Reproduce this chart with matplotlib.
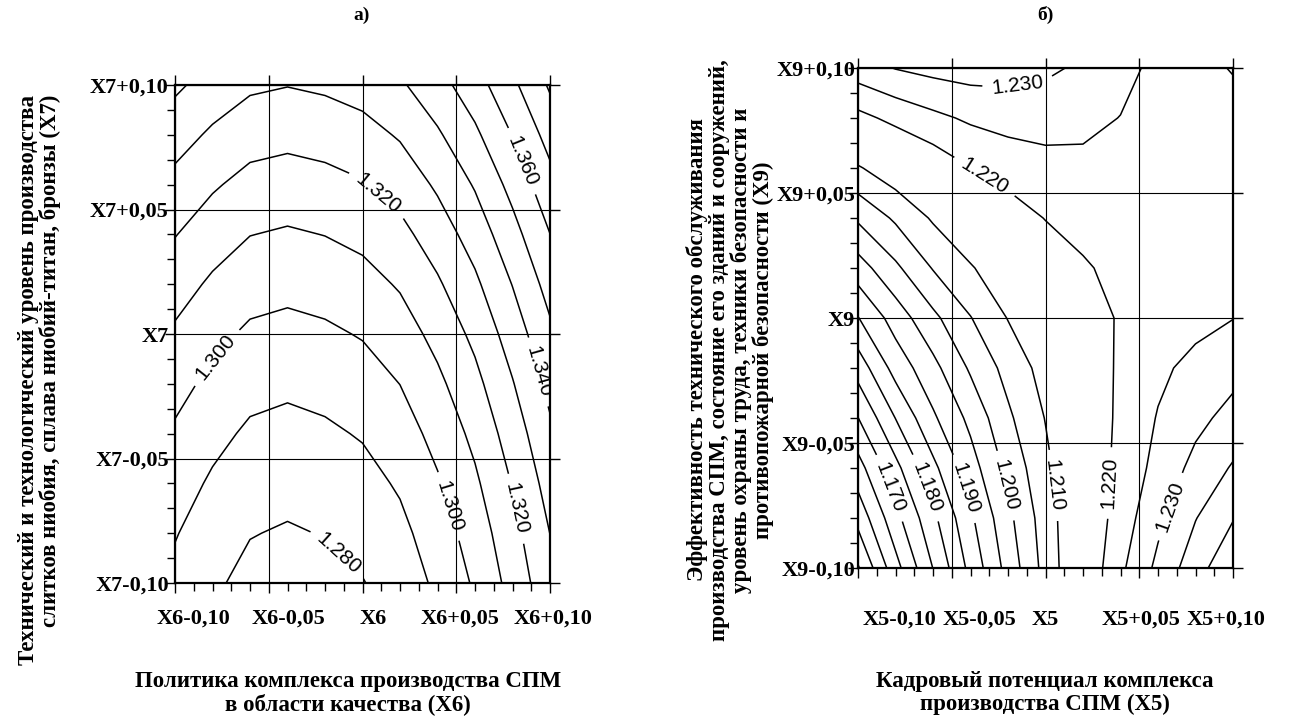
import matplotlib
matplotlib.use("Agg")
import matplotlib.pyplot as plt
from matplotlib.ticker import FixedLocator, MultipleLocator
from matplotlib.transforms import ScaledTranslation

# coded factor levels of the response surface grid
x_grid = [-0.10, -0.08, -0.06, -0.04, -0.02, 0.00, 0.02, 0.04, 0.06, 0.08, 0.10]
y_grid = [-0.10, -0.08, -0.06, -0.04, -0.02, 0.00, 0.02, 0.04, 0.06, 0.08, 0.10]

# а) response vs X6 (columns) and X7 (rows, bottom -> top)
z_left = [
    [1.2874, 1.2816, 1.2772, 1.2759, 1.2772, 1.2796, 1.2842, 1.2919, 1.3013, 1.3135, 1.3269],
    [1.2906, 1.2848, 1.2804, 1.2791, 1.2804, 1.2828, 1.2874, 1.2951, 1.3045, 1.3167, 1.3301],
    [1.2944, 1.2886, 1.2842, 1.2829, 1.2842, 1.2866, 1.2912, 1.2989, 1.3083, 1.3205, 1.3339],
    [1.2986, 1.2928, 1.2884, 1.2871, 1.2884, 1.2908, 1.2954, 1.3031, 1.3125, 1.3247, 1.3381],
    [1.3033, 1.2975, 1.2931, 1.2918, 1.2931, 1.2955, 1.3001, 1.3078, 1.3172, 1.3294, 1.3428],
    [1.3085, 1.3027, 1.2983, 1.2970, 1.2983, 1.3007, 1.3053, 1.3130, 1.3224, 1.3346, 1.3480],
    [1.3142, 1.3084, 1.3040, 1.3027, 1.3040, 1.3064, 1.3110, 1.3187, 1.3281, 1.3403, 1.3537],
    [1.3204, 1.3146, 1.3102, 1.3089, 1.3102, 1.3126, 1.3172, 1.3249, 1.3343, 1.3465, 1.3599],
    [1.3270, 1.3212, 1.3168, 1.3155, 1.3168, 1.3192, 1.3238, 1.3315, 1.3409, 1.3531, 1.3665],
    [1.3342, 1.3284, 1.3240, 1.3227, 1.3240, 1.3264, 1.3310, 1.3387, 1.3481, 1.3603, 1.3737],
    [1.3418, 1.3360, 1.3316, 1.3303, 1.3316, 1.3340, 1.3386, 1.3463, 1.3557, 1.3679, 1.3813],
]

# б) response vs X5 (columns) and X9 (rows, bottom -> top)
z_right = [
    [1.1495, 1.1632, 1.1751, 1.1865, 1.1968, 1.2068, 1.2156, 1.2240, 1.2312, 1.2379, 1.2441],
    [1.1566, 1.1684, 1.1788, 1.1891, 1.1987, 1.2075, 1.2153, 1.2224, 1.2288, 1.2348, 1.2397],
    [1.1630, 1.1735, 1.1837, 1.1928, 1.2014, 1.2088, 1.2156, 1.2216, 1.2265, 1.2315, 1.2355],
    [1.1699, 1.1801, 1.1892, 1.1963, 1.2041, 1.2102, 1.2158, 1.2211, 1.2253, 1.2286, 1.2317],
    [1.1771, 1.1869, 1.1935, 1.2007, 1.2067, 1.2119, 1.2165, 1.2208, 1.2240, 1.2264, 1.2283],
    [1.1848, 1.1922, 1.1988, 1.2048, 1.2102, 1.2139, 1.2176, 1.2205, 1.2220, 1.2235, 1.2249],
    [1.1927, 1.1990, 1.2053, 1.2096, 1.2130, 1.2163, 1.2195, 1.2212, 1.2222, 1.2230, 1.2235],
    [1.2008, 1.2058, 1.2106, 1.2139, 1.2171, 1.2202, 1.2215, 1.2222, 1.2226, 1.2227, 1.2228],
    [1.2095, 1.2132, 1.2166, 1.2199, 1.2224, 1.2235, 1.2239, 1.2236, 1.2228, 1.2227, 1.2229],
    [1.2185, 1.2214, 1.2238, 1.2258, 1.2266, 1.2268, 1.2262, 1.2249, 1.2240, 1.2237, 1.2238],
    [1.2278, 1.2302, 1.2315, 1.2322, 1.2322, 1.2310, 1.2291, 1.2265, 1.2238, 1.2240, 1.2252],
]

levels_left = [1.28, 1.29, 1.30, 1.31, 1.32, 1.33, 1.34, 1.35, 1.36, 1.37, 1.38]
levels_right = [1.150, 1.155, 1.160, 1.165, 1.170, 1.175, 1.180, 1.185, 1.190,
                1.195, 1.200, 1.205, 1.210, 1.220, 1.225, 1.230, 1.235, 1.240]

tick_values = [-0.10, -0.05, 0.0, 0.05, 0.10]
x6_labels = ["X6-0,10", "X6-0,05", "X6", "X6+0,05", "X6+0,10"]
x7_labels = ["X7-0,10", "X7-0,05", "X7", "X7+0,05", "X7+0,10"]
x5_labels = ["X5-0,10", "X5-0,05", "X5", "X5+0,05", "X5+0,10"]
x9_labels = ["X9-0,10", "X9-0,05", "X9", "X9+0,05", "X9+0,10"]

# sideways shift (points) of the bottom tick labels, as placed in the original
shift_left = [13, 14, 8, 3, 2]
shift_right = [30, 20, 0, 1, -5]

# where the contour values are written
label_spots_left = [(0.087, 0.070), (0.009, 0.057), (-0.080, -0.008), (0.095, -0.015),
                    (0.047, -0.069), (0.083, -0.070), (-0.010, -0.086)]
label_spots_right = [(-0.015, 0.094), (-0.033, 0.056), (-0.083, -0.068), (-0.064, -0.068),
                     (-0.042, -0.068), (-0.021, -0.067), (0.004, -0.067), (0.034, -0.066),
                     (0.065, -0.075)]

SERIF = "Liberation Serif"
SANS = "Liberation Sans"


def style_axes(ax, xlabels, ylabels, shifts, xpad, ypad):
    ax.set_xlim(-0.1, 0.1)
    ax.set_ylim(-0.1, 0.1)
    ax.xaxis.set_major_locator(FixedLocator(tick_values))
    ax.yaxis.set_major_locator(FixedLocator(tick_values))
    ax.xaxis.set_minor_locator(MultipleLocator(0.01))
    ax.yaxis.set_minor_locator(MultipleLocator(0.01))
    ax.set_xticklabels(xlabels, family=SERIF, fontweight="bold", fontsize=16)
    ax.set_yticklabels(ylabels, family=SERIF, fontweight="bold", fontsize=16)
    ax.tick_params(which="major", direction="out", length=7.5, width=1.0,
                   top=True, right=True, labeltop=False, labelright=False)
    ax.tick_params(axis="x", which="major", pad=xpad)
    ax.tick_params(axis="y", which="major", pad=ypad)
    ax.tick_params(which="minor", direction="out", length=5.5, width=1.0,
                   top=False, right=False)
    ax.grid(which="major", color="black", linewidth=0.8)
    for sp in ax.spines.values():
        sp.set_linewidth(1.6)
    for lab, dx in zip(ax.get_xticklabels(), shifts):
        lab.set_transform(lab.get_transform() +
                          ScaledTranslation(dx / 72, 0, ax.figure.dpi_scale_trans))


def draw_panel(ax, z, levels, spots):
    cs = ax.contour(x_grid, y_grid, z, levels=levels, colors="black", linewidths=1.1)
    texts = ax.clabel(cs, fmt="%.3f", fontsize=15, inline=True, inline_spacing=6,
                      manual=spots)
    for t in texts:
        t.set_fontfamily(SANS)


fig = plt.figure(figsize=(12.91, 7.19), dpi=100)

ax1 = fig.add_axes([175 / 1291, 1 - 583 / 719, 375 / 1291, 498 / 719])
draw_panel(ax1, z_left, levels_left, label_spots_left)
style_axes(ax1, x6_labels, x7_labels, shift_left, 11, -3)

ax2 = fig.add_axes([858 / 1291, 1 - 568 / 719, 375 / 1291, 500 / 719])
draw_panel(ax2, z_right, levels_right, label_spots_right)
style_axes(ax2, x5_labels, x9_labels, shift_right, 22.5, -5.5)

fig.text(362 / 1291, 1 - 15 / 719, "а)", family=SERIF, fontweight="bold", fontsize=14,
         ha="center", va="center")
fig.text(1045 / 1291, 1 - 15 / 719, "б)", family=SERIF, fontweight="bold", fontsize=14,
         ha="center", va="center")

fig.text(348 / 1291, 1 - 693 / 719, "Политика комплекса производства СПМ\nв области качества (X6)",
         family=SERIF, fontweight="bold", fontsize=16.5, ha="center", va="center",
         multialignment="center", linespacing=1.1)
fig.text(1045 / 1291, 1 - 693 / 719, "Кадровый потенциал комплекса\nпроизводства СПМ (X5)",
         family=SERIF, fontweight="bold", fontsize=16.5, ha="center", va="center",
         multialignment="center", linespacing=1.1)

fig.text(40 / 1291, 1 - 95 / 719,
         "Технический и технологический уровень производства\n"
         "слитков ниобия, сплава ниобий-титан, бронзы (X7)",
         family=SERIF, fontweight="bold", fontsize=16.5, rotation=90, ha="center", va="top",
         multialignment="right", linespacing=1.0)
fig.text(730 / 1291, 1 - 350 / 719,
         "Эффективность технического обслуживания\n"
         "производства СПМ, состояние его зданий и сооружений,\n"
         "уровень охраны труда, техники безопасности и\n"
         "противопожарной безопасности (X9)",
         family=SERIF, fontweight="bold", fontsize=16.5, rotation=90, ha="center", va="center",
         multialignment="center", linespacing=1.0)

fig.savefig("out.png", dpi=100)
